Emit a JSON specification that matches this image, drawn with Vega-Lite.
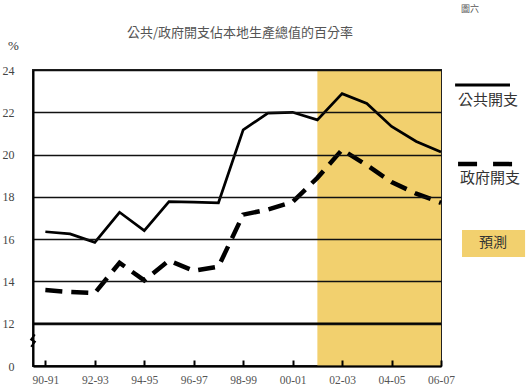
{
  "$schema": "https://vega.github.io/schema/vega-lite/v6.json",
  "width": 408,
  "height": 296,
  "autosize": "none",
  "padding": {"left": 33, "top": 70, "right": 88, "bottom": 25},
  "background": "white",
  "config": {"view": {"stroke": "#222", "strokeWidth": 2}, "font": "Liberation Serif"},
  "datasets": {
    "one": [{}],
    "series": [
      {"i": 0, "year": "90-91", "series": "公共開支", "value": 16.35},
      {"i": 1, "year": "91-92", "series": "公共開支", "value": 16.25},
      {"i": 2, "year": "92-93", "series": "公共開支", "value": 15.85},
      {"i": 3, "year": "93-94", "series": "公共開支", "value": 17.27},
      {"i": 4, "year": "94-95", "series": "公共開支", "value": 16.4},
      {"i": 5, "year": "95-96", "series": "公共開支", "value": 17.77},
      {"i": 6, "year": "96-97", "series": "公共開支", "value": 17.75},
      {"i": 7, "year": "97-98", "series": "公共開支", "value": 17.72},
      {"i": 8, "year": "98-99", "series": "公共開支", "value": 21.17},
      {"i": 9, "year": "99-00", "series": "公共開支", "value": 21.96},
      {"i": 10, "year": "00-01", "series": "公共開支", "value": 22.0},
      {"i": 11, "year": "01-02", "series": "公共開支", "value": 21.64},
      {"i": 12, "year": "02-03", "series": "公共開支", "value": 22.88},
      {"i": 13, "year": "03-04", "series": "公共開支", "value": 22.42},
      {"i": 14, "year": "04-05", "series": "公共開支", "value": 21.33},
      {"i": 15, "year": "05-06", "series": "公共開支", "value": 20.62},
      {"i": 16, "year": "06-07", "series": "公共開支", "value": 20.12},
      {"i": 0, "year": "90-91", "series": "政府開支", "value": 13.59},
      {"i": 1, "year": "91-92", "series": "政府開支", "value": 13.5},
      {"i": 2, "year": "92-93", "series": "政府開支", "value": 13.45},
      {"i": 3, "year": "93-94", "series": "政府開支", "value": 14.88},
      {"i": 4, "year": "94-95", "series": "政府開支", "value": 14.05},
      {"i": 5, "year": "95-96", "series": "政府開支", "value": 14.99},
      {"i": 6, "year": "96-97", "series": "政府開支", "value": 14.5},
      {"i": 7, "year": "97-98", "series": "政府開支", "value": 14.7},
      {"i": 8, "year": "98-99", "series": "政府開支", "value": 17.16},
      {"i": 9, "year": "99-00", "series": "政府開支", "value": 17.4},
      {"i": 10, "year": "00-01", "series": "政府開支", "value": 17.76},
      {"i": 11, "year": "01-02", "series": "政府開支", "value": 18.9},
      {"i": 12, "year": "02-03", "series": "政府開支", "value": 20.23},
      {"i": 13, "year": "03-04", "series": "政府開支", "value": 19.5},
      {"i": 14, "year": "04-05", "series": "政府開支", "value": 18.7},
      {"i": 15, "year": "05-06", "series": "政府開支", "value": 18.15},
      {"i": 16, "year": "06-07", "series": "政府開支", "value": 17.72}
    ]
  },
  "layer": [
    {
      "data": {"name": "one"},
      "mark": {"type": "rect", "color": "#f2d06e"},
      "encoding": {
        "x": {"datum": 11, "type": "quantitative"},
        "x2": {"datum": 16},
        "y": {"datum": 10, "type": "quantitative"},
        "y2": {"datum": 24}
      }
    },
    {
      "data": {"name": "series"},
      "transform": [{"filter": "datum.series == '公共開支'"}],
      "mark": {"type": "line", "color": "black", "strokeWidth": 2.7},
      "encoding": {
        "x": {"field": "i", "type": "quantitative",
          "scale": {"domain": [-0.5, 16], "nice": false, "zero": false},
          "axis": {"values": [0,1,2,3,4,5,6,7,8,9,10,11,12,13,14,15,16],
            "labelExpr": "datum.value % 2 == 0 ? ['90-91','91-92','92-93','93-94','94-95','95-96','96-97','97-98','98-99','99-00','00-01','01-02','02-03','03-04','04-05','05-06','06-07'][datum.value] : ''",
            "tickSize": -6, "tickWidth": 2, "tickColor": "black", "domainColor": "black", "domainWidth": 2,
            "labelFontSize": 11.5, "labelColor": "#555", "labelPadding": 14, "grid": false, "title": null,
            "zindex": 1, "labelFlush": false, "labelOverlap": false}},
        "y": {"field": "value", "type": "quantitative",
          "scale": {"domain": [10, 24], "nice": false, "zero": false},
          "axis": {"values": [10,12,14,16,18,20,22,24],
            "labelExpr": "datum.value == 10 ? '0' : datum.label",
            "grid": true, "gridColor": "#111", "gridWidth": 1.3, "ticks": false,
            "domainColor": "black", "domainWidth": 2, "labelPadding": 19,
            "labelFontSize": 12, "labelColor": "#444",
            "title": "%", "titleAngle": 0, "titleX": -20, "titleY": -25, "titleAlign": "center", "titleBaseline": "middle",
            "titleFontSize": 13, "titleFontWeight": "normal", "titleColor": "#333", "zindex": 1}}
      }
    },
    {
      "data": {"name": "series"},
      "transform": [{"filter": "datum.series == '政府開支'"}],
      "mark": {"type": "line", "color": "black", "strokeWidth": 4.5, "strokeDash": [17, 9]},
      "encoding": {
        "x": {"field": "i", "type": "quantitative"},
        "y": {"field": "value", "type": "quantitative"}
      }
    },
    {
      "data": {"name": "one"},
      "mark": {"type": "rule", "color": "black", "strokeWidth": 2.5},
      "encoding": {
        "x": {"datum": -0.5, "type": "quantitative"},
        "x2": {"datum": 16},
        "y": {"datum": 12, "type": "quantitative"}
      }
    },
    {
      "data": {"name": "one"},
      "mark": {"type": "point", "shape": "M0.3,-1 L-0.3,-0.2 L0.3,0.2 L-0.3,1", "filled": false, "stroke": "black", "strokeWidth": 2, "size": 150, "opacity": 1},
      "encoding": {
        "x": {"datum": -0.5, "type": "quantitative"},
        "y": {"datum": 11.2, "type": "quantitative"}
      }
    },
    {
      "data": {"name": "one"},
      "mark": {"type": "text", "text": "公共/政府開支佔本地生產總值的百分率", "font": "Noto Sans CJK TC", "fontSize": 13, "fontWeight": "normal", "color": "#555"},
      "encoding": {
        "x": {"datum": 7.87, "type": "quantitative"},
        "y": {"datum": 25.75, "type": "quantitative"}
      }
    },
    {
      "data": {"name": "one"},
      "mark": {"type": "rule", "color": "black", "strokeWidth": 3},
      "encoding": {
        "x": {"datum": 16.57, "type": "quantitative"},
        "x2": {"datum": 18.79},
        "y": {"datum": 23.29, "type": "quantitative"}
      }
    },
    {
      "data": {"name": "one"},
      "mark": {"type": "text", "text": "公共開支", "font": "Noto Sans CJK TC", "fontSize": 15, "fontWeight": "normal", "color": "#333"},
      "encoding": {
        "x": {"datum": 17.9, "type": "quantitative"},
        "y": {"datum": 22.58, "type": "quantitative"}
      }
    },
    {
      "data": {"name": "one"},
      "mark": {"type": "rule", "color": "black", "strokeWidth": 4.5, "strokeDash": [19, 16]},
      "encoding": {
        "x": {"datum": 16.69, "type": "quantitative"},
        "x2": {"datum": 19.07},
        "y": {"datum": 19.55, "type": "quantitative"}
      }
    },
    {
      "data": {"name": "one"},
      "mark": {"type": "text", "text": "政府開支", "font": "Noto Sans CJK TC", "fontSize": 15, "fontWeight": "normal", "color": "#333"},
      "encoding": {
        "x": {"datum": 17.98, "type": "quantitative"},
        "y": {"datum": 18.89, "type": "quantitative"}
      }
    },
    {
      "data": {"name": "one"},
      "mark": {"type": "rect", "color": "#f2d06e"},
      "encoding": {
        "x": {"datum": 16.85, "type": "quantitative"},
        "x2": {"datum": 19.4},
        "y": {"datum": 15.15, "type": "quantitative"},
        "y2": {"datum": 16.43}
      }
    },
    {
      "data": {"name": "one"},
      "mark": {"type": "text", "text": "預測", "font": "Noto Sans CJK TC", "fontSize": 14, "fontWeight": "normal", "color": "#333"},
      "encoding": {
        "x": {"datum": 18.1, "type": "quantitative"},
        "y": {"datum": 15.8, "type": "quantitative"}
      }
    },
    {
      "data": {"name": "one"},
      "mark": {"type": "text", "text": "圖六", "font": "Noto Sans CJK TC", "fontSize": 9, "fontWeight": "normal", "color": "#555"},
      "encoding": {
        "x": {"datum": 17.17, "type": "quantitative"},
        "y": {"datum": 26.9, "type": "quantitative"}
      }
    }
  ]
}
